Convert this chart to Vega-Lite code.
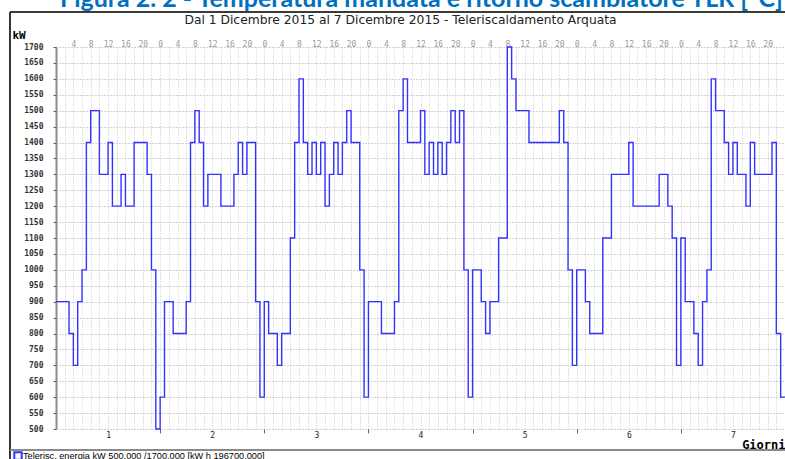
{
  "$schema": "https://vega.github.io/schema/vega-lite/v6.json",
  "width": 729,
  "height": 382,
  "autosize": {"type": "none"},
  "padding": {"left": 56, "top": 47, "right": 0, "bottom": 30},
  "background": "white",
  "title": {
    "text": "Figura 2. 2 - Temperatura mandata e ritorno scambiatore TLR [°C]",
    "anchor": "start",
    "frame": "group",
    "dx": 4,
    "dy": 21,
    "offset": 0,
    "font": "Lato",
    "fontSize": 25,
    "fontWeight": "bold",
    "color": "#0070c0",
    "baseline": "alphabetic",
    "limit": 2000
  },
  "config": {
    "view": {"stroke": null},
    "axis": {"labelFont": "DejaVu Sans Mono", "titleFont": "DejaVu Sans Mono"}
  },
  "data": {
    "values": [
      {"h": 0, "kW": 900}, {"h": 1, "kW": 900}, {"h": 2, "kW": 900}, {"h": 3, "kW": 800}, {"h": 4, "kW": 700}, {"h": 5, "kW": 900},
      {"h": 6, "kW": 1000}, {"h": 7, "kW": 1400}, {"h": 8, "kW": 1500}, {"h": 9, "kW": 1500}, {"h": 10, "kW": 1300}, {"h": 11, "kW": 1300},
      {"h": 12, "kW": 1400}, {"h": 13, "kW": 1200}, {"h": 14, "kW": 1200}, {"h": 15, "kW": 1300}, {"h": 16, "kW": 1200}, {"h": 17, "kW": 1200},
      {"h": 18, "kW": 1400}, {"h": 19, "kW": 1400}, {"h": 20, "kW": 1400}, {"h": 21, "kW": 1300}, {"h": 22, "kW": 1000}, {"h": 23, "kW": 500},
      {"h": 24, "kW": 600}, {"h": 25, "kW": 900}, {"h": 26, "kW": 900}, {"h": 27, "kW": 800}, {"h": 28, "kW": 800}, {"h": 29, "kW": 800},
      {"h": 30, "kW": 900}, {"h": 31, "kW": 1400}, {"h": 32, "kW": 1500}, {"h": 33, "kW": 1400}, {"h": 34, "kW": 1200}, {"h": 35, "kW": 1300},
      {"h": 36, "kW": 1300}, {"h": 37, "kW": 1300}, {"h": 38, "kW": 1200}, {"h": 39, "kW": 1200}, {"h": 40, "kW": 1200}, {"h": 41, "kW": 1300},
      {"h": 42, "kW": 1400}, {"h": 43, "kW": 1300}, {"h": 44, "kW": 1400}, {"h": 45, "kW": 1400}, {"h": 46, "kW": 900}, {"h": 47, "kW": 600},
      {"h": 48, "kW": 900}, {"h": 49, "kW": 800}, {"h": 50, "kW": 800}, {"h": 51, "kW": 700}, {"h": 52, "kW": 800}, {"h": 53, "kW": 800},
      {"h": 54, "kW": 1100}, {"h": 55, "kW": 1400}, {"h": 56, "kW": 1600}, {"h": 57, "kW": 1400}, {"h": 58, "kW": 1300}, {"h": 59, "kW": 1400},
      {"h": 60, "kW": 1300}, {"h": 61, "kW": 1400}, {"h": 62, "kW": 1200}, {"h": 63, "kW": 1300}, {"h": 64, "kW": 1400}, {"h": 65, "kW": 1300},
      {"h": 66, "kW": 1400}, {"h": 67, "kW": 1500}, {"h": 68, "kW": 1400}, {"h": 69, "kW": 1400}, {"h": 70, "kW": 1000}, {"h": 71, "kW": 600},
      {"h": 72, "kW": 900}, {"h": 73, "kW": 900}, {"h": 74, "kW": 900}, {"h": 75, "kW": 800}, {"h": 76, "kW": 800}, {"h": 77, "kW": 800},
      {"h": 78, "kW": 900}, {"h": 79, "kW": 1500}, {"h": 80, "kW": 1600}, {"h": 81, "kW": 1400}, {"h": 82, "kW": 1400}, {"h": 83, "kW": 1400},
      {"h": 84, "kW": 1500}, {"h": 85, "kW": 1300}, {"h": 86, "kW": 1400}, {"h": 87, "kW": 1300}, {"h": 88, "kW": 1400}, {"h": 89, "kW": 1300},
      {"h": 90, "kW": 1400}, {"h": 91, "kW": 1500}, {"h": 92, "kW": 1400}, {"h": 93, "kW": 1500}, {"h": 94, "kW": 1000}, {"h": 95, "kW": 600},
      {"h": 96, "kW": 1000}, {"h": 97, "kW": 1000}, {"h": 98, "kW": 900}, {"h": 99, "kW": 800}, {"h": 100, "kW": 900}, {"h": 101, "kW": 900},
      {"h": 102, "kW": 1100}, {"h": 103, "kW": 1100}, {"h": 104, "kW": 1700}, {"h": 105, "kW": 1600}, {"h": 106, "kW": 1500}, {"h": 107, "kW": 1500},
      {"h": 108, "kW": 1500}, {"h": 109, "kW": 1400}, {"h": 110, "kW": 1400}, {"h": 111, "kW": 1400}, {"h": 112, "kW": 1400}, {"h": 113, "kW": 1400},
      {"h": 114, "kW": 1400}, {"h": 115, "kW": 1400}, {"h": 116, "kW": 1500}, {"h": 117, "kW": 1400}, {"h": 118, "kW": 1000}, {"h": 119, "kW": 700},
      {"h": 120, "kW": 1000}, {"h": 121, "kW": 1000}, {"h": 122, "kW": 900}, {"h": 123, "kW": 800}, {"h": 124, "kW": 800}, {"h": 125, "kW": 800},
      {"h": 126, "kW": 1100}, {"h": 127, "kW": 1100}, {"h": 128, "kW": 1300}, {"h": 129, "kW": 1300}, {"h": 130, "kW": 1300}, {"h": 131, "kW": 1300},
      {"h": 132, "kW": 1400}, {"h": 133, "kW": 1200}, {"h": 134, "kW": 1200}, {"h": 135, "kW": 1200}, {"h": 136, "kW": 1200}, {"h": 137, "kW": 1200},
      {"h": 138, "kW": 1200}, {"h": 139, "kW": 1300}, {"h": 140, "kW": 1300}, {"h": 141, "kW": 1200}, {"h": 142, "kW": 1100}, {"h": 143, "kW": 700},
      {"h": 144, "kW": 1100}, {"h": 145, "kW": 900}, {"h": 146, "kW": 900}, {"h": 147, "kW": 800}, {"h": 148, "kW": 700}, {"h": 149, "kW": 900},
      {"h": 150, "kW": 1000}, {"h": 151, "kW": 1600}, {"h": 152, "kW": 1500}, {"h": 153, "kW": 1500}, {"h": 154, "kW": 1400}, {"h": 155, "kW": 1300},
      {"h": 156, "kW": 1400}, {"h": 157, "kW": 1300}, {"h": 158, "kW": 1300}, {"h": 159, "kW": 1200}, {"h": 160, "kW": 1400}, {"h": 161, "kW": 1300},
      {"h": 162, "kW": 1300}, {"h": 163, "kW": 1300}, {"h": 164, "kW": 1300}, {"h": 165, "kW": 1400}, {"h": 166, "kW": 800}, {"h": 167, "kW": 600},
      {"h": 168, "kW": 600}
    ]
  },
  "resolve": {"axis": {"x": "independent", "y": "independent"}},
  "layer": [
    {
      "mark": {"type": "rule", "color": "#3c3c3c", "strokeWidth": 1},
      "encoding": {
        "x": {
          "datum": -10.5, "type": "quantitative",
          "scale": {"domain": [0, 168], "nice": false, "zero": false},
          "axis": {
            "orient": "top",
            "values": [4,8,12,16,20,24,28,32,36,40,44,48,52,56,60,64,68,72,76,80,84,88,92,96,100,104,108,112,116,120,124,128,132,136,140,144,148,152,156,160,164],
            "labelExpr": "'' + (datum.value % 24)",
            "grid": false, "domain": false, "ticks": false,
            "labelColor": "#9a9a9a", "labelFontSize": 8, "labelBaseline": "middle", "labelPadding": 3,
            "labelOverlap": false, "labelFlush": false, "labelBound": false,
            "title": "Dal 1 Dicembre 2015 al 7 Dicembre 2015 - Teleriscaldamento Arquata",
            "titleFont": "DejaVu Sans", "titleFontSize": 12.3, "titleFontWeight": "normal", "titleColor": "#222222",
            "titleX": 344, "titleY": -23.5, "titleAlign": "center", "titleBaseline": "alphabetic", "titleAngle": 0
          }
        },
        "x2": {"datum": 172},
        "y": {"datum": 1810, "type": "quantitative", "scale": {"domain": [500, 1700], "nice": false, "zero": false}, "axis": null}
      }
    },
    {
      "mark": {"type": "rule", "color": "#3c3c3c", "strokeWidth": 1},
      "encoding": {
        "x": {"datum": -10.5, "type": "quantitative", "scale": {"domain": [0, 168], "nice": false, "zero": false}, "axis": null},
        "y": {"datum": 1810, "type": "quantitative", "scale": {"domain": [500, 1700], "nice": false, "zero": false}, "axis": null},
        "y2": {"datum": 380}
      }
    },
    {
      "mark": {"type": "rule", "color": "#8a8a8a", "strokeWidth": 2},
      "encoding": {
        "x": {
          "datum": -10.5, "type": "quantitative",
          "scale": {"domain": [0, 168], "nice": false, "zero": false},
          "axis": {
            "orient": "bottom",
            "values": [0,2,4,6,8,10,12,14,16,18,20,22,24,26,28,30,32,34,36,38,40,42,44,46,48,50,52,54,56,58,60,62,64,66,68,70,72,74,76,78,80,82,84,86,88,90,92,94,96,98,100,102,104,106,108,110,112,114,116,118,120,122,124,126,128,130,132,134,136,138,140,142,144,146,148,150,152,154,156,158,160,162,164,166,168],
            "labelExpr": "datum.value % 24 === 12 ? '' + (floor(datum.value / 24) + 1) : ''",
            "grid": true, "gridColor": "#c4c4c4", "gridDash": [1, 2], "gridWidth": 1,
            "domain": false, "ticks": true, "tickSize": 4, "tickColor": "#666666",
            "tickOpacity": {"condition": {"test": "datum.value % 24 === 0 && datum.value > 0 && datum.value < 168", "value": 1}, "value": 0},
            "labelColor": "#222222", "labelFontSize": 8, "labelPadding": -2,
            "labelOverlap": false, "labelFlush": false, "labelBound": false,
            "title": "Giorni", "titleFontSize": 12, "titleFontWeight": "bold", "titleColor": "#000000",
            "titleX": 729, "titleY": 15, "titleAlign": "right", "titleBaseline": "middle", "titleAngle": 0
          }
        },
        "x2": {"datum": 172},
        "y": {"datum": 434, "type": "quantitative", "scale": {"domain": [500, 1700], "nice": false, "zero": false}, "axis": null}
      }
    },
    {
      "mark": {"type": "line", "interpolate": "step-after", "strokeWidth": 1.4},
      "encoding": {
        "x": {"field": "h", "type": "quantitative", "scale": {"domain": [0, 168], "nice": false, "zero": false}, "axis": null},
        "y": {
          "field": "kW", "type": "quantitative",
          "scale": {"domain": [500, 1700], "nice": false, "zero": false},
          "axis": {
            "orient": "left",
            "values": [500,550,600,650,700,750,800,850,900,950,1000,1050,1100,1150,1200,1250,1300,1350,1400,1450,1500,1550,1600,1650,1700],
            "format": "d",
            "grid": true, "gridColor": "#a6a6a6", "gridDash": [1, 2], "gridWidth": 1,
            "domain": true, "domainColor": "#8c8c8c", "domainWidth": 2,
            "ticks": true, "tickSize": 3, "tickColor": "#555555",
            "labelFontSize": 8, "labelFontWeight": "bold", "labelColor": "#333333", "labelPadding": 10,
            "labelOverlap": false, "labelFlush": false, "labelBound": false,
            "title": "kW", "titleFontSize": 11, "titleFontWeight": "bold", "titleColor": "#000000",
            "titleX": -44, "titleY": -12, "titleAlign": "left", "titleBaseline": "middle", "titleAngle": 0
          }
        },
        "color": {
          "datum": "Telerisc. energia kW  500.000 /1700.000  [kW h 196700.000]",
          "scale": {"range": ["#3333ff"]},
          "legend": {
            "orient": "none", "legendX": -43, "legendY": 404, "title": null, "padding": 0,
            "symbolType": "square", "symbolSize": 55, "symbolStrokeColor": "#0000cc", "symbolFillColor": "#ffffff", "symbolStrokeWidth": 2,
            "labelOffset": 0,
            "labelFont": "Liberation Sans", "labelFontSize": 9.2, "labelColor": "#000000", "labelLimit": 500
          }
        }
      }
    }
  ]
}
